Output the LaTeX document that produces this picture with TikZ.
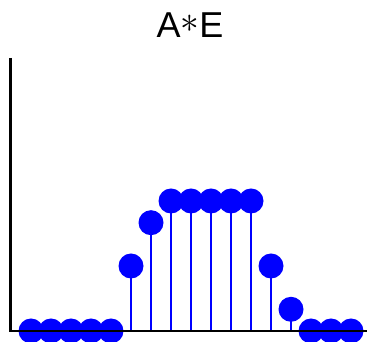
\documentclass[tikz,border=0pt]{standalone}
\usepackage{fontspec}
\usepackage{graphicx}
\setmainfont{Liberation Sans}
\usetikzlibrary{backgrounds}

\tikzset{stem/.style={blue,line width=2pt},
         dot/.style={blue},
         axisline/.style={black,line width=2.2pt}}

\begin{document}
\begin{tikzpicture}[x=1pt,y=1pt]
\useasboundingbox (0,0) rectangle (367,342);
\node[anchor=base,inner sep=0pt] (title) at (190,304) {\fontsize{36}{40}\selectfont A\raisebox{5pt}{\scalebox{1.5}{$\ast$}}E};
\draw[stem] (131,11) -- (131,76);
\draw[stem] (151,11) -- (151,119.3);
\draw[stem] (171,11) -- (171,141);
\draw[stem] (191,11) -- (191,141);
\draw[stem] (211,11) -- (211,141);
\draw[stem] (231,11) -- (231,141);
\draw[stem] (251,11) -- (251,141);
\draw[stem] (271,11) -- (271,76);
\draw[stem] (291,11) -- (291,32.7);
\fill[dot] (31,11) circle (12.5);
\fill[dot] (51,11) circle (12.5);
\fill[dot] (71,11) circle (12.5);
\fill[dot] (91,11) circle (12.5);
\fill[dot] (111,11) circle (12.5);
\fill[dot] (131,76) circle (12.5);
\fill[dot] (151,119.3) circle (12.5);
\fill[dot] (171,141) circle (12.5);
\fill[dot] (191,141) circle (12.5);
\fill[dot] (211,141) circle (12.5);
\fill[dot] (231,141) circle (12.5);
\fill[dot] (251,141) circle (12.5);
\fill[dot] (271,76) circle (12.5);
\fill[dot] (291,32.7) circle (12.5);
\fill[dot] (311,11) circle (12.5);
\fill[dot] (331,11) circle (12.5);
\fill[dot] (351,11) circle (12.5);
\draw[axisline] (10.5,284) -- (10.5,11) -- (367,11);
\end{tikzpicture}
\end{document}
